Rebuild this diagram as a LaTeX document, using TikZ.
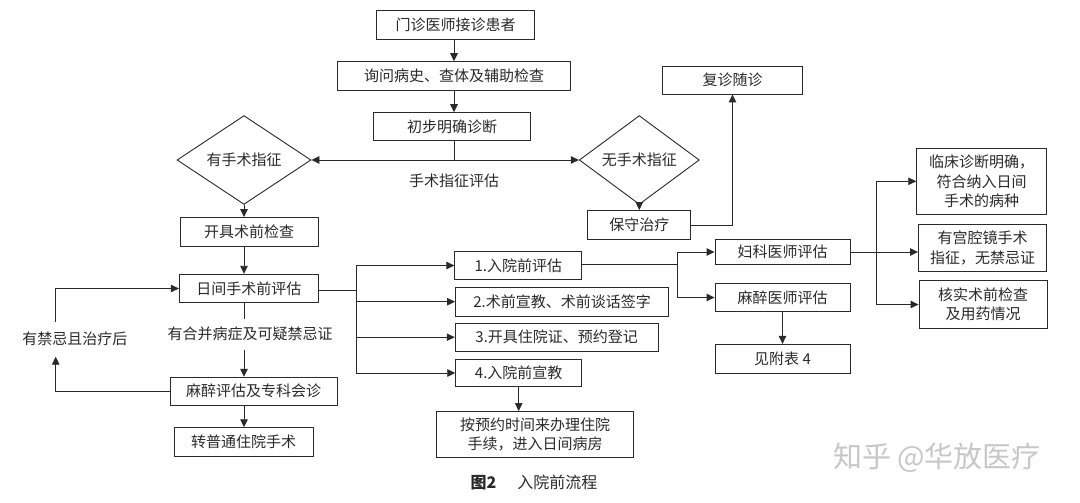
\documentclass[tikz,border=0pt]{standalone}
\usepackage{fontspec}
\setmainfont{Noto Sans CJK SC}
\usetikzlibrary{arrows.meta,shapes.geometric}
\definecolor{ink}{HTML}{2A2A2A}
\begin{document}
\begin{tikzpicture}[x=1pt,y=-1pt,
  every node/.style={text=ink,font=\fontsize{15}{19.5}\selectfont},
  box/.style={draw=ink,line width=0.9pt,rectangle,inner sep=0pt,align=center},
  dia/.style={draw=ink,line width=0.9pt,diamond,inner sep=0pt,align=center},
  lab/.style={inner sep=0pt,align=center},
  ln/.style={draw=ink,line width=0.9pt},
  arr/.style={ln,-{Triangle[length=8pt,width=7.5pt]}}]
\useasboundingbox (0,0) rectangle (1080,503);
\fill[white] (0,0) rectangle (1080,503);
% left/centre column
\node[box,minimum width=158pt,minimum height=29pt] (n1) at (455.5,24.7) {门诊医师接诊患者};
\node[box,minimum width=233pt,minimum height=29pt] (n2) at (454,76.2) {询问病史、查体及辅助检查};
\node[box,minimum width=157pt,minimum height=28pt] (n3) at (452,126.7) {初步明确诊断};
\coordinate (j1) at (454,160);
\node[dia,minimum width=134pt,minimum height=60pt] (d1) at (244,160) {有手术指征};
\node[dia,minimum width=120pt,minimum height=60pt] (d2) at (639.3,160) {无手术指征};
\node[lab] (lab1) at (454,181) {手术指征评估};
\node[box,minimum width=138pt,minimum height=29pt] (n4) at (249,232) {开具术前检查};
\node[box,minimum width=103pt,minimum height=29pt] (n5) at (639.3,225) {保守治疗};
\node[box,minimum width=140pt,minimum height=28pt] (n6) at (732.5,80) {复诊随诊};
\node[box,minimum width=139pt,minimum height=28.5pt] (n7) at (248.8,288.5) {日间手术前评估};
\node[lab,minimum height=30pt] (lab2) at (250,334.3) {有合并病症及可疑禁忌证};
\node[box,minimum width=167pt,minimum height=28pt] (n8) at (253.7,391.2) {麻醉评估及专科会诊};
\node[box,minimum width=139pt,minimum height=29pt] (n9) at (243.7,442.2) {转普通住院手术};
\node[lab] (lab3) at (75,339) {有禁忌且治疗后};
\coordinate (c1) at (55.7,356.7);
\coordinate (c2) at (55.7,321.7);
% middle column
\node[box,minimum width=127pt,minimum height=28pt] (b1) at (518.3,265.5) {1.入院前评估};
\node[box,minimum width=213pt,minimum height=29pt] (b2) at (562,301.7) {2.术前宣教、术前谈话签字};
\node[box,minimum width=203pt,minimum height=28pt] (b3) at (556.7,337.2) {3.开具住院证、预约登记};
\node[box,minimum width=126pt,minimum height=27pt] (b4) at (518.7,373) {4.入院前宣教};
\node[box,minimum width=197pt,minimum height=46pt] (b5) at (535,434.5) {按预约时间来办理住院\\手续，进入日间病房};
\coordinate (jx) at (356,290);
% right columns
\node[box,minimum width=135pt,minimum height=25pt] (g1) at (782.5,252) {妇科医师评估};
\node[box,minimum width=135pt,minimum height=28pt] (g2) at (782.5,297.5) {麻醉医师评估};
\node[box,minimum width=135pt,minimum height=29pt] (g3) at (782.5,358.8) {见附表 4};
\coordinate (jy) at (677.7,264);
\node[box,minimum width=130pt,minimum height=66pt] (r1) at (981.7,181.3) {临床诊断明确，\\符合纳入日间\\手术的病种};
\node[box,minimum width=128pt,minimum height=47pt] (r2) at (982.5,248) {有宫腔镜手术\\指征，无禁忌证};
\node[box,minimum width=128pt,minimum height=48pt] (r3) at (983,304.5) {核实术前检查\\及用药情况};
\coordinate (jz) at (876.7,252);
% caption and watermark
\node[lab,font=\fontsize{16}{19}\selectfont] (cap) at (534,482.3) {\textbf{图2}\hspace{1.3em}入院前流程};
\node[lab,text=black!22,font=\fontsize{29}{31}\selectfont] (wm) at (937,458) {知乎 @华放医疗};
% connectors
\draw[arr] (n1.south -| n2.south) -- (n2.north);
\draw[arr] (n2.south) -- (n2.south |- n3.north);
\draw[ln] (n3.south -| j1) -- (j1);
\draw[arr] (j1) -- (d1.east);
\draw[arr] (j1) -- (d2.west);
\draw[arr] (d1.south) -- (d1.south |- n4.north);
\draw[arr] (d1.south |- n4.south) -- (d1.south |- n7.north);
\draw[ln] (d1.south |- n7.south) -- (d1.south |- lab2.north);
\draw[arr] (d1.south |- lab2.south) -- (d1.south |- n8.north);
\draw[arr] (d1.south |- n8.south) -- (d1.south |- n9.north);
\draw[arr] (n8.west) -| (c1);
\draw[arr] (c2) |- (n7.west);
\draw[arr] (d2.south) -- (n5.north);
\draw[arr] (n5.east) -| (n6.south);
\draw[ln] (n7.east |- jx) -- (jx);
\draw[ln] (jx |- b1.west) -- (jx |- b4.west);
\draw[arr] (jx |- b1.west) -- (b1.west);
\draw[arr] (jx |- b2.west) -- (b2.west);
\draw[arr] (jx |- b3.west) -- (b3.west);
\draw[arr] (jx |- b4.west) -- (b4.west);
\draw[arr] (b4.south) -- (b4.south |- b5.north);
\draw[ln] (b1.east |- jy) -- (jy);
\draw[ln] (jy |- g1.west) -- (jy |- g2.west);
\draw[arr] (jy |- g1.west) -- (g1.west);
\draw[arr] (jy |- g2.west) -- (g2.west);
\draw[arr] (g2.south) -- (g2.south |- g3.north);
\draw[arr] (g1.east) -- (r2.west |- g1.east);
\draw[ln] (jz |- r1.west) -- (jz |- r3.west);
\draw[arr] (jz |- r1.west) -- (r1.west);
\draw[arr] (jz |- r3.west) -- (r3.west);
\end{tikzpicture}
\end{document}
